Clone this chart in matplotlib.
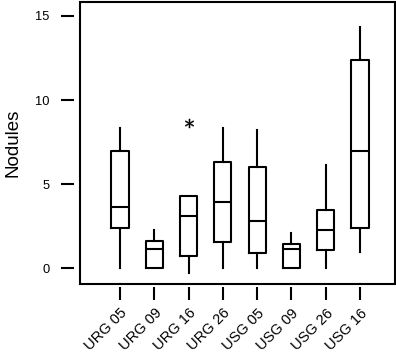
import matplotlib
matplotlib.use("Agg")
import matplotlib.pyplot as plt
from matplotlib.patches import Rectangle

plt.rcParams['font.family'] = ['Liberation Sans', 'DejaVu Sans']

categories = ["URG 05", "URG 09", "URG 16", "URG 26", "USG 05", "USG 09", "USG 26", "USG 16"]
whis_lo = [0.0, 0.0, -0.26, 0.0, 0.0, 0.0, 0.0, 0.95]
q1 = [2.40, 0.0, 0.75, 1.56, 0.89, 0.0, 1.09, 2.41]
median = [3.64, 1.13, 3.09, 3.94, 2.83, 1.13, 2.30, 6.97]
q3 = [6.99, 1.62, 4.30, 6.30, 6.00, 1.44, 3.47, 12.37]
whis_hi = [8.32, 2.28, 4.30, 8.32, 8.22, 2.08, 6.14, 14.37]
outliers = [[], [], [8.62], [], [], [], [], []]
yticks = [0, 5, 10, 15]

stats = []
for i, c in enumerate(categories):
    stats.append(dict(label=c, whislo=whis_lo[i], q1=q1[i], med=median[i],
                      q3=q3[i], whishi=whis_hi[i], fliers=outliers[i]))

fig = plt.figure(figsize=(3.96, 3.53), dpi=100)
ax = fig.add_axes([0.202, 0.1955, 0.7947, 0.798])

lw = 1.5
ax.bxp(stats, positions=range(1, 9), widths=0.5, showcaps=False,
       boxprops=dict(color='black', linewidth=lw),
       whiskerprops=dict(color='black', linewidth=lw),
       medianprops=dict(color='black', linewidth=lw),
       flierprops=dict(marker='$*$', markersize=6.5, markeredgewidth=0.3,
                       markeredgecolor='black', markerfacecolor='black',
                       linestyle='none'))

ax.set_xlim(-0.167, 9.01)
ax.set_ylim(-0.93, 15.81)

for side in ['top', 'right', 'left', 'bottom']:
    ax.spines[side].set_visible(False)
ax.spines['left'].set_position(('outward', 4.3))
ax.spines['bottom'].set_position(('outward', 2.2))
ax.add_patch(Rectangle((0, 0), 1, 1, transform=ax.transAxes, fill=False,
                       edgecolor='black', linewidth=lw, clip_on=False))

ax.set_yticks(yticks)
ax.set_yticklabels([str(v) for v in yticks])
ax.set_xticks(range(1, 9))
ax.set_xticklabels(categories, rotation=45, ha='right', va='top',
                   rotation_mode='anchor', fontsize=10.5)
ax.tick_params(axis='both', length=9.6, width=lw, color='black')
ax.tick_params(axis='y', pad=8, labelsize=9.3)
ax.tick_params(axis='x', pad=4)
ax.set_ylabel('Nodules', fontsize=13.5, labelpad=10)

fig.savefig('out.png', dpi=100)
